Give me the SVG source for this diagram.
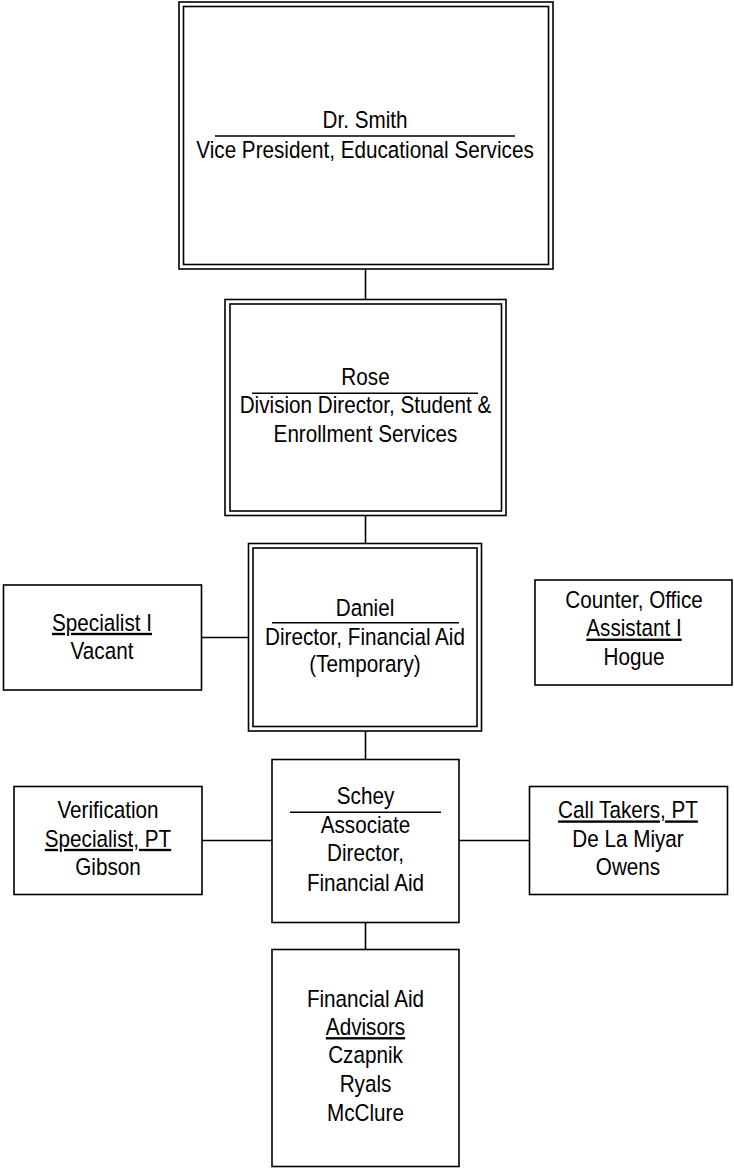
<svg xmlns="http://www.w3.org/2000/svg" width="734" height="1170" viewBox="0 0 734 1170">
<style>
.box{fill:#fff;stroke:#000;stroke-width:1.6}
.ln{stroke:#000;stroke-width:1.6;fill:none}
.dv{stroke:#000;stroke-width:1.5}
text{font-family:"Liberation Sans",Arial,sans-serif;font-size:23.5px;fill:#000;text-anchor:middle}
.u{text-decoration:underline}
</style>
<rect width="734" height="1170" fill="#fff"/>
<g id="connectors">
<line class="ln" x1="365.5" y1="269" x2="365.5" y2="299.5"/>
<line class="ln" x1="365.5" y1="515.5" x2="365.5" y2="543.5"/>
<line class="ln" x1="365.5" y1="731" x2="365.5" y2="759.5"/>
<line class="ln" x1="365.5" y1="922.5" x2="365.5" y2="949.5"/>
<line class="ln" x1="201.5" y1="637.5" x2="248.5" y2="637.5"/>
<line class="ln" x1="202" y1="840.5" x2="272" y2="840.5"/>
<line class="ln" x1="459" y1="840.5" x2="529.5" y2="840.5"/>
</g>
<g id="smith">
<rect class="box" x="179" y="2" width="374" height="267"/>
<rect class="box" x="183.5" y="6.5" width="365" height="258"/>
<line class="dv" x1="215" y1="136" x2="515" y2="136"/>
<g transform="translate(365,0) scale(0.88,1)">
<text x="0" y="128.5">Dr. Smith</text>
<text x="0" y="158.5">Vice President, Educational Services</text>
</g>
</g>
<g id="rose">
<rect class="box" x="225" y="299.5" width="281" height="216"/>
<rect class="box" x="230" y="304" width="271.5" height="207"/>
<line class="dv" x1="252" y1="393.3" x2="478" y2="393.3"/>
<g transform="translate(365.5,0) scale(0.88,1)">
<text x="0" y="385">Rose</text>
<text x="0" y="413.3">Division Director, Student &amp;</text>
<text x="0" y="441.7">Enrollment Services</text>
</g>
</g>
<g id="daniel">
<rect class="box" x="248.5" y="543.5" width="233" height="187.5"/>
<rect class="box" x="253" y="548" width="224" height="178.5"/>
<line class="dv" x1="272" y1="622.7" x2="459" y2="622.7"/>
<g transform="translate(365,0) scale(0.88,1)">
<text x="0" y="616">Daniel</text>
<text x="0" y="645">Director, Financial Aid</text>
<text x="0" y="672">(Temporary)</text>
</g>
</g>
<g id="specialist">
<rect class="box" x="3.5" y="585" width="198" height="105"/>
<g transform="translate(102,0) scale(0.88,1)">
<text x="0" y="630.7" class="u">Specialist I</text>
<text x="0" y="659.3">Vacant</text>
</g>
</g>
<g id="counter">
<rect class="box" x="535" y="580" width="197" height="105"/>
<g transform="translate(634,0) scale(0.88,1)">
<text x="0" y="608.3">Counter, Office</text>
<text x="0" y="636.5" class="u">Assistant I</text>
<text x="0" y="665">Hogue</text>
</g>
</g>
<g id="schey">
<rect class="box" x="272" y="759.5" width="187" height="163"/>
<line class="dv" x1="290" y1="812.3" x2="441" y2="812.3"/>
<g transform="translate(365.5,0) scale(0.88,1)">
<text x="0" y="804.3">Schey</text>
<text x="0" y="832.7">Associate</text>
<text x="0" y="861">Director,</text>
<text x="0" y="891.5">Financial Aid</text>
</g>
</g>
<g id="verification">
<rect class="box" x="14" y="786.5" width="188" height="108"/>
<g transform="translate(108,0) scale(0.88,1)">
<text x="0" y="818.3">Verification</text>
<text x="0" y="846.7" class="u">Specialist, PT</text>
<text x="0" y="875">Gibson</text>
</g>
</g>
<g id="calltakers">
<rect class="box" x="529.5" y="786.5" width="198" height="108"/>
<g transform="translate(628,0) scale(0.88,1)">
<text x="0" y="818.3" class="u">Call Takers, PT</text>
<text x="0" y="846.7">De La Miyar</text>
<text x="0" y="875">Owens</text>
</g>
</g>
<g id="advisors">
<rect class="box" x="272" y="949.5" width="187" height="217"/>
<g transform="translate(365.5,0) scale(0.88,1)">
<text x="0" y="1006.7">Financial Aid</text>
<text x="0" y="1035" class="u">Advisors</text>
<text x="0" y="1063.3">Czapnik</text>
<text x="0" y="1091.7">Ryals</text>
<text x="0" y="1121.5">McClure</text>
</g>
</g>
</svg>
